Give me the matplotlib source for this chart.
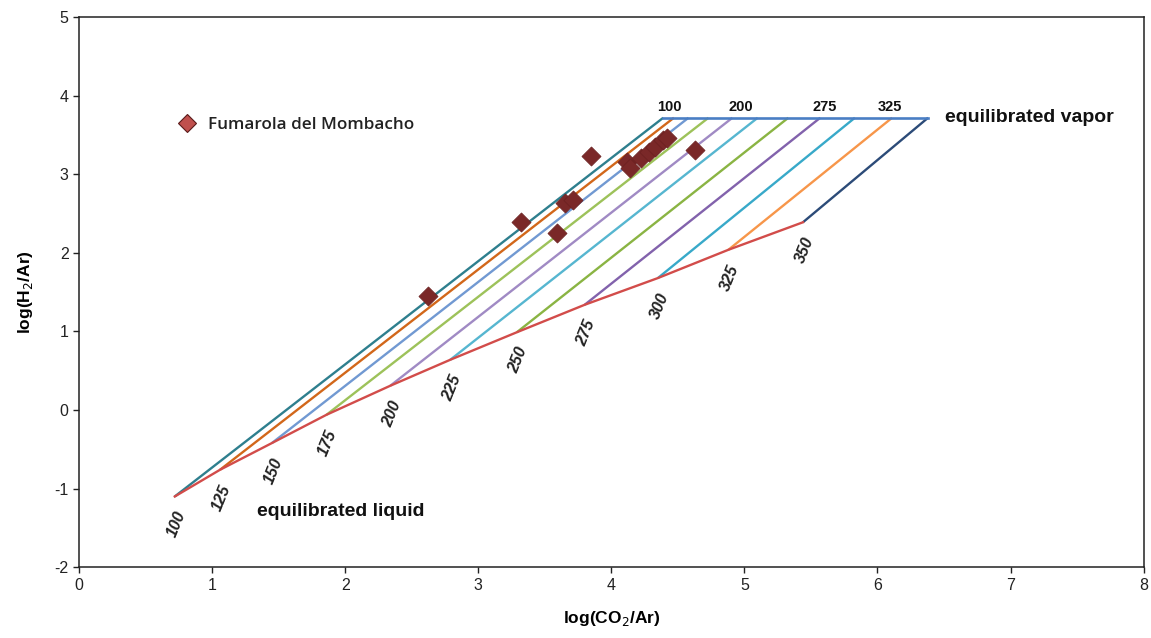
import matplotlib
matplotlib.use("Agg")
import matplotlib.pyplot as plt
from matplotlib.lines import Line2D

plt.rcParams['font.family'] = ['Liberation Sans', 'DejaVu Sans']
plt.rcParams['axes.unicode_minus'] = False

# Isotherm grid: temperatures (°C)
temps = [100, 125, 150, 175, 200, 225, 250, 275, 300, 325, 350]
# equilibrated liquid curve end-points
liquid_x = [0.72, 1.06, 1.45, 1.86, 2.34, 2.79, 3.29, 3.80, 4.35, 4.88, 5.44]
liquid_y = [-1.10, -0.76, -0.42, -0.06, 0.31, 0.64, 0.99, 1.34, 1.68, 2.04, 2.39]
# equilibrated vapor line end-points
vapor_x = [4.39, 4.47, 4.58, 4.73, 4.91, 5.10, 5.33, 5.57, 5.83, 6.11, 6.38]
vapor_y = [3.72] * 11
line_colors = ['#2E7F8E', '#D2671A', '#7199D2', '#9DC25A', '#A08AC4', '#56B6D0',
               '#8AB443', '#8262AC', '#38A9C9', '#F7964A', '#2C4B78']
top_labels = [100, 200, 275, 325]
top_label_x = [4.44, 4.97, 5.60, 6.09]

# Fumarola del Mombacho samples
sample_x = [2.62, 3.32, 3.59, 3.65, 3.71, 3.85, 4.12, 4.14, 4.22, 4.28, 4.33, 4.39, 4.42, 4.63]
sample_y = [1.45, 2.39, 2.25, 2.63, 2.67, 3.24, 3.16, 3.08, 3.21, 3.28, 3.35, 3.44, 3.46, 3.31]

fig = plt.figure(figsize=(11.51, 6.38), dpi=100)
ax = fig.add_axes([0.0686, 0.111, 0.925, 0.862])

for i, t in enumerate(temps):
    ax.plot([liquid_x[i], vapor_x[i]], [liquid_y[i], vapor_y[i]],
            color=line_colors[i], lw=1.7, solid_capstyle='butt', zorder=2)

# vapor line
ax.plot([vapor_x[0], vapor_x[-1]], [vapor_y[0], vapor_y[-1]], color='#4A7EC4', lw=1.9, zorder=3)
# liquid curve
ax.plot(liquid_x, liquid_y, color='#D24C4A', lw=1.7, zorder=3)

# bottom temperature labels
for i, t in enumerate(temps):
    ax.annotate(str(t), (liquid_x[i], liquid_y[i]), xytext=(1, -20),
                textcoords='offset points', rotation=68, ha='center', va='center',
                fontsize=11.5, fontweight='bold', fontstyle='italic', color='#222222')

for t, x in zip(top_labels, top_label_x):
    ax.annotate(str(t), (x, vapor_y[0]), xytext=(0, 8), textcoords='offset points',
                ha='center', va='center', fontsize=10.5, fontweight='bold', color='#111111')

ax.text(6.51, 3.72, 'equilibrated vapor', fontsize=14, fontweight='bold',
        va='center', ha='left', color='#111111')
ax.text(1.34, -1.29, 'equilibrated liquid', fontsize=14, fontweight='bold',
        va='center', ha='left', color='#111111')

ax.scatter(sample_x, sample_y, marker='D', s=95, color='#7A2828',
           edgecolor='#6A2020', linewidths=0.5, zorder=5)

leg_handle = Line2D([], [], marker='D', linestyle='none', markersize=9.5,
                    markerfacecolor='#C0504D', markeredgecolor='#5A1A1A', markeredgewidth=0.8)
ax.legend([leg_handle], ['Fumarola del Mombacho'], loc='center left',
          bbox_to_anchor=(0.071, 0.804), frameon=False, handletextpad=0.2,
          prop={'family': ['Open Sans', 'DejaVu Sans'], 'size': 12.3, 'weight': 'semibold'},
          labelcolor='#222222')

ax.set_xlim(0, 8)
ax.set_ylim(-2, 5)
ax.set_xticks(range(0, 9))
ax.set_yticks(range(-2, 6))
ax.tick_params(direction='out', length=4, labelsize=11.5, colors='#222222', width=1)
for s in ax.spines.values():
    s.set_color('#222222')
    s.set_linewidth(1.1)

ax.set_xlabel('log(CO$_2$/Ar)', fontsize=12.5, fontweight='bold', labelpad=12)
ax.set_ylabel('log(H$_2$/Ar)', fontsize=12.5, fontweight='bold', labelpad=14)

fig.savefig('out.png', dpi=100)
